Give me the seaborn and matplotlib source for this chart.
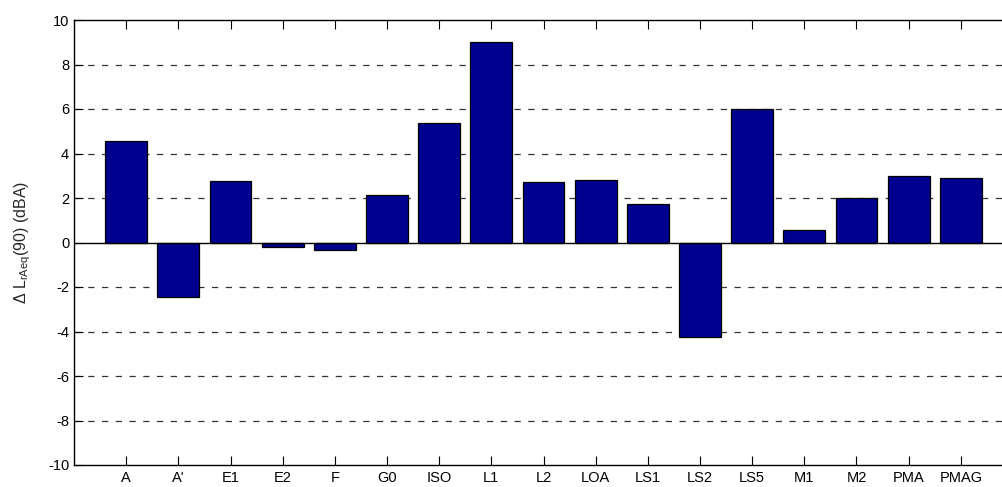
import matplotlib
matplotlib.use("Agg")
import matplotlib.pyplot as plt
import seaborn as sns
import numpy as np

categories = ["A", "A'", "E1", "E2", "F", "G0", "ISO", "L1", "L2", "LOA",
              "LS1", "LS2", "LS5", "M1", "M2", "PMA", "PMAG"]
values = [4.55, -2.44, 2.75, -0.21, -0.34, 2.14, 5.37, 9.01, 2.74, 2.80,
          1.75, -4.25, 6.01, 0.57, 1.98, 2.97, 2.89]
yticks = [-10, -8, -6, -4, -2, 0, 2, 4, 6, 8, 10]
ylabel = r"$\Delta$ L$_{\mathregular{rAeq}}$(90) (dBA)"

sns.set_style("white")
plt.rcParams["font.family"] = ["Liberation Sans", "DejaVu Sans"]
plt.rcParams["mathtext.fontset"] = "custom"
plt.rcParams["mathtext.rm"] = "Liberation Sans"
plt.rcParams["mathtext.it"] = "Liberation Sans"
plt.rcParams["mathtext.bf"] = "Liberation Sans:bold"

fig = plt.figure(figsize=(10.02, 4.87), dpi=100)
ax = fig.add_axes([74 / 1002, 22 / 487, (1013 - 74) / 1002, 445 / 487])

for yv in yticks:
    if yv in (0, 10, -10):
        continue
    ax.axhline(yv, color="#333333", lw=0.9, ls=(0, (5, 6)), zorder=0)

sns.barplot(x=categories, y=values, color="#00008F", saturation=1,
            edgecolor="black", linewidth=0.9, width=0.8, ax=ax, zorder=2)
ax.axhline(0, color="black", lw=1.0, zorder=3)

ax.set_xlim(-1, 17)
ax.set_ylim(-10, 10)
ax.set_yticks(yticks)
ax.set_yticklabels([str(v) for v in yticks])
ax.set_xlabel("")
ax.set_ylabel(ylabel, fontsize=11.5)
ax.yaxis.set_label_coords(-0.044, 0.5)
ax.tick_params(axis="both", direction="in", length=6.5, width=0.8,
               labelsize=10.5, colors="black", top=True, left=True,
               bottom=True, right=False)
ax.tick_params(axis="x", pad=4)
for s in ax.spines.values():
    s.set_color("black")
    s.set_linewidth(1.0)

fig.savefig("out.png", dpi=100)
